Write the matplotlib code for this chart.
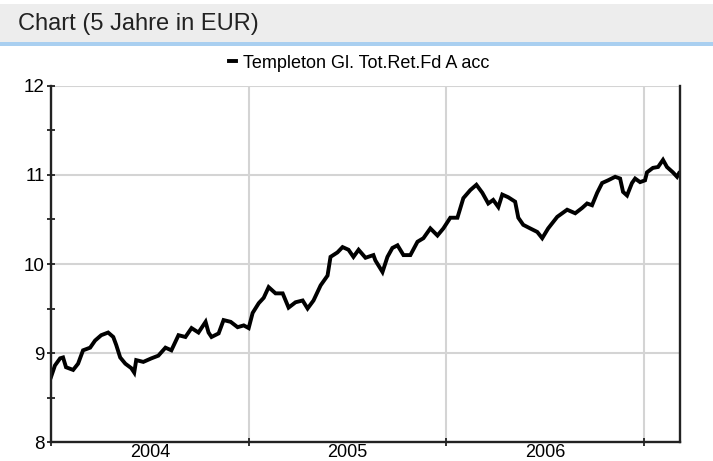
import matplotlib
matplotlib.use('Agg')
from matplotlib import pyplot as plt
from matplotlib.patches import Rectangle
from matplotlib.ticker import FixedLocator, NullFormatter

plt.rcParams['font.family'] = ['Liberation Sans', 'DejaVu Sans']

# time as fractional years
t = [2004.000, 2004.020, 2004.046, 2004.061, 2004.076, 2004.112, 2004.137, 2004.162,
     2004.198, 2004.223, 2004.254, 2004.289, 2004.315, 2004.330, 2004.350, 2004.376,
     2004.406, 2004.421, 2004.431, 2004.467, 2004.508, 2004.543, 2004.579, 2004.609,
     2004.645, 2004.680, 2004.711, 2004.746, 2004.782, 2004.797, 2004.812, 2004.848,
     2004.873, 2004.909, 2004.944, 2004.975,
     2005.000, 2005.020, 2005.051, 2005.076, 2005.101, 2005.136, 2005.172, 2005.202,
     2005.237, 2005.273, 2005.298, 2005.328, 2005.364, 2005.399, 2005.414, 2005.449,
     2005.475, 2005.505, 2005.530, 2005.556, 2005.591, 2005.631, 2005.641, 2005.677,
     2005.702, 2005.727, 2005.753, 2005.783, 2005.818, 2005.854, 2005.884, 2005.919,
     2005.955, 2005.985,
     2006.020, 2006.056, 2006.086, 2006.121, 2006.152, 2006.182, 2006.212, 2006.237,
     2006.263, 2006.283, 2006.313, 2006.348, 2006.364, 2006.389, 2006.424, 2006.460,
     2006.485, 2006.515, 2006.561, 2006.611, 2006.652, 2006.687, 2006.712, 2006.737,
     2006.763, 2006.788, 2006.818, 2006.854, 2006.879, 2006.894, 2006.914, 2006.939,
     2006.955, 2006.980,
     2007.005, 2007.015, 2007.045, 2007.071, 2007.096, 2007.116, 2007.146, 2007.167,
     2007.177]

nav = [8.73, 8.86, 8.94, 8.95, 8.84, 8.81, 8.88, 9.03,
       9.06, 9.14, 9.20, 9.23, 9.18, 9.09, 8.95, 8.88,
       8.83, 8.78, 8.92, 8.90, 8.94, 8.97, 9.06, 9.03,
       9.20, 9.18, 9.28, 9.23, 9.35, 9.23, 9.18, 9.22,
       9.37, 9.35, 9.29, 9.31,
       9.28, 9.45, 9.56, 9.62, 9.74, 9.67, 9.67, 9.51,
       9.57, 9.59, 9.50, 9.59, 9.76, 9.87, 10.08, 10.13,
       10.19, 10.16, 10.08, 10.16, 10.07, 10.10, 10.04, 9.91,
       10.08, 10.18, 10.21, 10.10, 10.10, 10.25, 10.29, 10.40,
       10.32, 10.40,
       10.52, 10.52, 10.74, 10.83, 10.89, 10.80, 10.68, 10.72,
       10.64, 10.78, 10.75, 10.70, 10.52, 10.44, 10.40, 10.36,
       10.29, 10.40, 10.53, 10.61, 10.57, 10.63, 10.68, 10.66,
       10.80, 10.91, 10.94, 10.98, 10.96, 10.81, 10.77, 10.91,
       10.96, 10.92,
       10.94, 11.03, 11.08, 11.09, 11.17, 11.09, 11.03, 10.98,
       11.02]

fund = 'Templeton Gl. Tot.Ret.Fd A acc'
years = [2004, 2005, 2006]
y_ticks = [8, 9, 10, 11, 12]

fig = plt.figure(figsize=(7.13, 4.61), dpi=100)

# header band
fig.patches.append(Rectangle((0, 1 - 42/461), 1, 38/461, transform=fig.transFigure,
                             facecolor='#ededed', edgecolor='none'))
fig.patches.append(Rectangle((0, 1 - 46/461), 1, 4/461, transform=fig.transFigure,
                             facecolor='#a9cff0', edgecolor='none'))
fig.text(18/713, 1 - 24/461, 'Chart (5 Jahre in EUR)', fontsize=17, color='#222222',
         ha='left', va='center')

ax = fig.add_axes([51/713, 19/461, 629/713, 356/461])
line, = ax.plot(t, nav, color='black', lw=2.8, solid_joinstyle='miter', label=fund)

ax.set_xlim(2004.0, 2007.182)
ax.set_ylim(8, 12)

ax.xaxis.set_major_locator(FixedLocator([2004, 2005, 2006, 2007]))
ax.xaxis.set_major_formatter(NullFormatter())
ax.xaxis.set_minor_locator(FixedLocator([y + 0.5 for y in years]))
ax.set_xticklabels([str(y) for y in years], minor=True)
ax.yaxis.set_major_locator(FixedLocator(y_ticks))
ax.set_yticklabels([str(v) for v in y_ticks])
ax.yaxis.set_minor_locator(FixedLocator([v + 0.5 for v in y_ticks[:-1]]))

ax.tick_params(axis='x', which='major', direction='inout', length=6, width=1.3, color='#222222')
ax.tick_params(axis='x', which='minor', length=0, pad=1.5, labelsize=13)
ax.tick_params(axis='y', which='both', direction='inout', length=6, width=1.3, color='#222222')
ax.tick_params(axis='y', which='major', pad=1.5, labelsize=13.5)

ax.grid(True, which='major', color='#d4d4d4', lw=1.5)
ax.set_axisbelow(True)

ax.spines['top'].set_visible(False)
for s in ['left', 'bottom', 'right']:
    ax.spines[s].set_color('#222222')
    ax.spines[s].set_linewidth(1.7)

fig.legend(handles=[line], loc='center', bbox_to_anchor=(359/713, 1 - 63/461),
           frameon=False, fontsize=13, handlelength=0.4, handletextpad=0.4)

plt.savefig('out.png', dpi=100)
